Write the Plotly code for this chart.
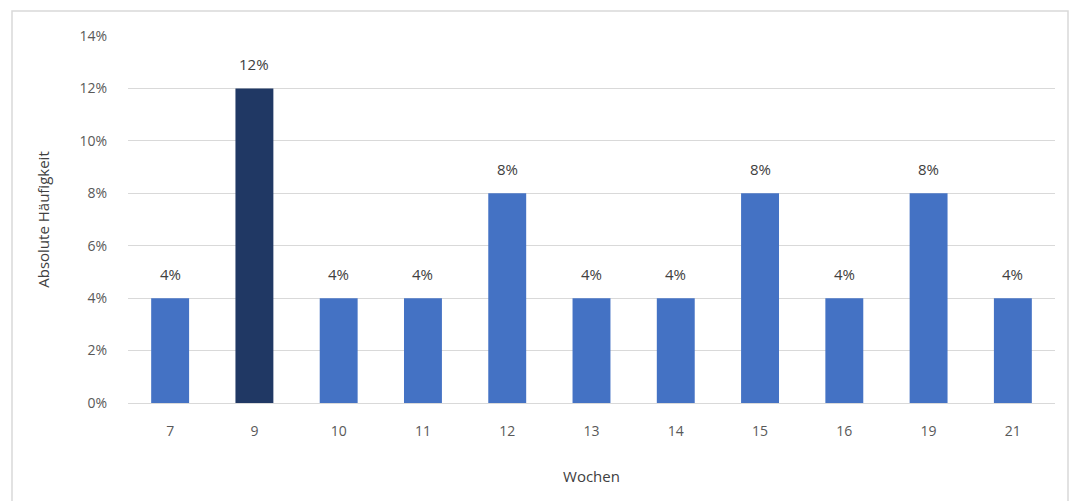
import plotly.graph_objects as go

weeks = ["7", "9", "10", "11", "12", "13", "14", "15", "16", "19", "21"]
values = [0.04, 0.12, 0.04, 0.04, 0.08, 0.04, 0.04, 0.08, 0.04, 0.08, 0.04]
labels = ["4%", "12%", "4%", "4%", "8%", "4%", "4%", "8%", "4%", "8%", "4%"]
colors = ["#4472C4" if w != "9" else "#203864" for w in weeks]

fig = go.Figure(go.Bar(
    x=weeks, y=values, marker_color=colors, marker_line_width=0,
))

# annotations placed by category index on the category axis
for i, (v, lab) in enumerate(zip(values, labels)):
    fig.add_annotation(x=i, y=v, text=lab, showarrow=False, yanchor="middle",
                       yshift=24, font=dict(size=15, color="#404040"))

W, H = 1078, 501
l, r, t, b = 128, 23, 36, 98
pw, ph = W - l - r, H - t - b

def px(x):
    return (x - l) / pw

def py(y):
    return (H - b - y) / ph

fig.update_layout(
    width=W, height=H,
    margin=dict(l=l, r=r, t=t, b=b),
    paper_bgcolor="white", plot_bgcolor="white",
    font=dict(family="Open Sans, Noto Sans, sans-serif", color="#595959", size=14),
    bargap=0.55,
    showlegend=False,
    xaxis=dict(type="category", categoryorder="array", categoryarray=weeks,
               showgrid=False, showline=True, linecolor="#D9D9D9",
               ticks="", ticklabelstandoff=15, tickfont=dict(size=14, color="#595959"),
               title=dict(text="Wochen", font=dict(size=15, color="#404040"), standoff=32)),
    yaxis=dict(range=[0, 0.14], dtick=0.02, tickformat=".0%", showgrid=True,
               gridcolor="#D9D9D9", gridwidth=1, zeroline=False, showline=False,
               ticks="", ticklabelstandoff=20,
               tickfont=dict(size=14, color="#595959"),
               title=dict(text="Absolute Häufigkeit", font=dict(size=15, color="#404040"), standoff=26)),
    shapes=[dict(type="rect", xref="paper", yref="paper",
                 x0=px(12), x1=px(1068), y0=py(510), y1=py(11),
                 line=dict(color="#D9D9D9", width=1.5), fillcolor="rgba(0,0,0,0)", layer="below")],
)

fig.write_html("out.html")
